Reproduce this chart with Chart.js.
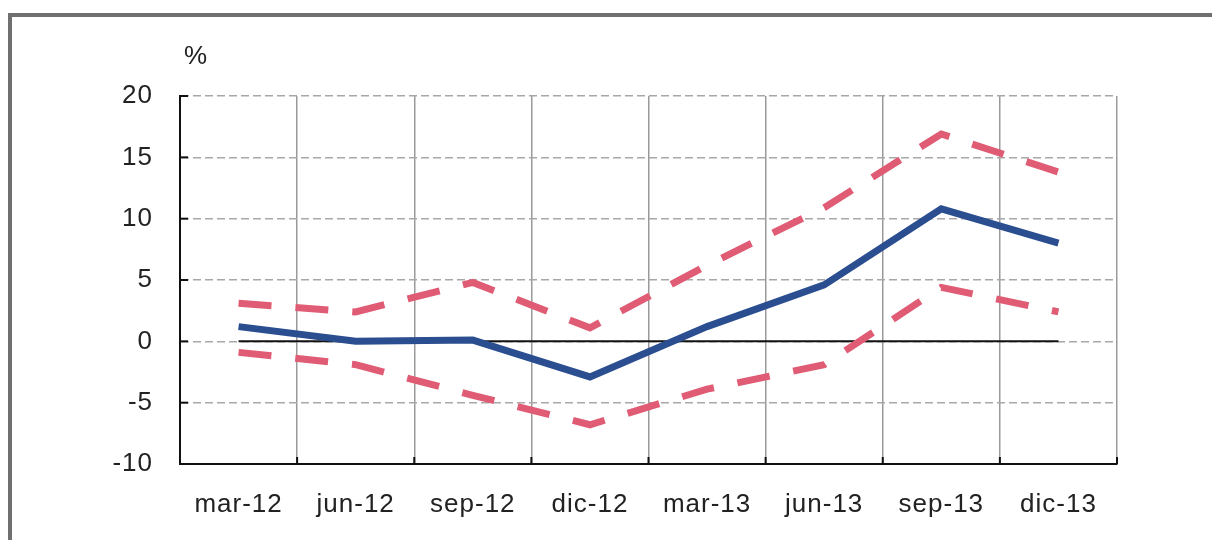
<!DOCTYPE html>
<html>
<head>
<meta charset="utf-8">
<script src="https://cdn.jsdelivr.net/npm/chart.js@4.4.1/dist/chart.umd.min.js"></script>
<style>
  html, body { margin: 0; padding: 0; background: #fff; }
  #wrap { position: relative; width: 1212px; height: 540px; overflow: hidden; }
  #frame {
    position: absolute; left: 8px; top: 13px; right: 0; bottom: 0;
    border-top: 4px solid #707070; border-left: 4px solid #707070;
  }
  canvas { position: absolute; left: 0; top: 0; }
</style>
</head>
<body>
<div id="wrap">
  <div id="frame"></div>
  <canvas id="chart"></canvas>
</div>
<script>
// quarters on the x axis
const categories = ['mar-12', 'jun-12', 'sep-12', 'dic-12', 'mar-13', 'jun-13', 'sep-13', 'dic-13'];

// central projection and band (percent)
const central = [1.2, 0.0, 0.1, -2.9, 1.2, 4.6, 10.8, 8.0];
const upperBand = [3.1, 2.4, 4.8, 1.1, 6.2, 10.9, 16.9, 13.8];
const lowerBand = [-0.9, -1.9, -4.4, -6.8, -3.9, -1.9, 4.4, 2.4];
const zeroLine = [0, 0, 0, 0, 0, 0, 0, 0];

// y axis
const yMin = -10;
const yMax = 20;
const yStep = 5;
const unitLabel = '%';

const FONT = "'Liberation Sans', Arial, sans-serif";

// inner tick marks on both axes + the unit label
const extras = {
  id: 'extras',
  beforeDraw(chart) {
    // the original lettering is a bit wider than Liberation Sans
    chart.ctx.letterSpacing = '1px';
  },
  beforeDatasetsDraw(chart) {
    const { ctx, scales: { x, y } } = chart;
    ctx.save();
    ctx.strokeStyle = '#111';
    ctx.lineWidth = 2;
    y.ticks.forEach(t => {
      const py = y.getPixelForValue(t.value);
      ctx.beginPath();
      ctx.moveTo(x.left, py);
      ctx.lineTo(x.left + 8, py);
      ctx.stroke();
    });
    const w = (x.right - x.left) / categories.length;
    for (let i = 1; i <= categories.length; i++) {
      const px = x.left + i * w;
      ctx.beginPath();
      ctx.moveTo(px, y.bottom);
      ctx.lineTo(px, y.bottom - 7);
      ctx.stroke();
    }
    ctx.restore();
  },
  afterDraw(chart) {
    const { ctx, chartArea } = chart;
    ctx.save();
    ctx.fillStyle = '#222';
    ctx.font = '26px ' + FONT;
    ctx.textAlign = 'left';
    ctx.textBaseline = 'middle';
    ctx.fillText(unitLabel, chartArea.left + 4, 57);
    ctx.restore();
  }
};

const ctx = document.getElementById('chart').getContext('2d');

new Chart(ctx, {
  type: 'line',
  data: {
    labels: categories,
    datasets: [
      {
        label: 'central',
        data: central,
        borderColor: '#2b4e90',
        borderWidth: 7,
        borderJoinStyle: 'miter',
        pointRadius: 0,
        tension: 0,
        order: 0
      },
      {
        label: 'upper',
        data: upperBand,
        borderColor: '#e05c74',
        borderWidth: 7,
        borderDash: [33, 24],
        borderCapStyle: 'butt',
        pointRadius: 0,
        tension: 0,
        order: 1
      },
      {
        label: 'lower',
        data: lowerBand,
        borderColor: '#e05c74',
        borderWidth: 7,
        borderDash: [33, 24],
        borderCapStyle: 'butt',
        pointRadius: 0,
        tension: 0,
        order: 1
      },
      {
        label: 'zero',
        data: zeroLine,
        borderColor: '#111',
        borderWidth: 2,
        pointRadius: 0,
        tension: 0,
        order: 2
      }
    ]
  },
  options: {
    responsive: true,
    maintainAspectRatio: false,
    animation: false,
    layout: {
      padding: { top: 96, right: 95, left: 0, bottom: 0 }
    },
    plugins: {
      legend: { display: false },
      tooltip: { enabled: false },
      title: { display: false }
    },
    scales: {
      x: {
        offset: true,
        afterFit: s => { s.height = 76; },
        grid: {
          offset: true,
          color: '#9a9a9a',
          lineWidth: 1.5,
          drawTicks: false
        },
        border: { display: true, color: '#111', width: 2 },
        ticks: {
          color: '#222',
          padding: 25,
          maxRotation: 0,
          autoSkip: false,
          font: { family: FONT, size: 26 }
        }
      },
      y: {
        min: yMin,
        max: yMax,
        afterFit: s => { s.width = 180; },
        grid: {
          color: '#a8a8a8',
          lineWidth: 1.5,
          drawTicks: false,
          tickBorderDash: [8, 4]
        },
        border: { display: true, color: '#111', width: 2, dash: [8, 4] },
        ticks: {
          stepSize: yStep,
          color: '#222',
          padding: 27,
          font: { family: FONT, size: 26 }
        }
      }
    }
  },
  plugins: [extras]
});
</script>
</body>
</html>
